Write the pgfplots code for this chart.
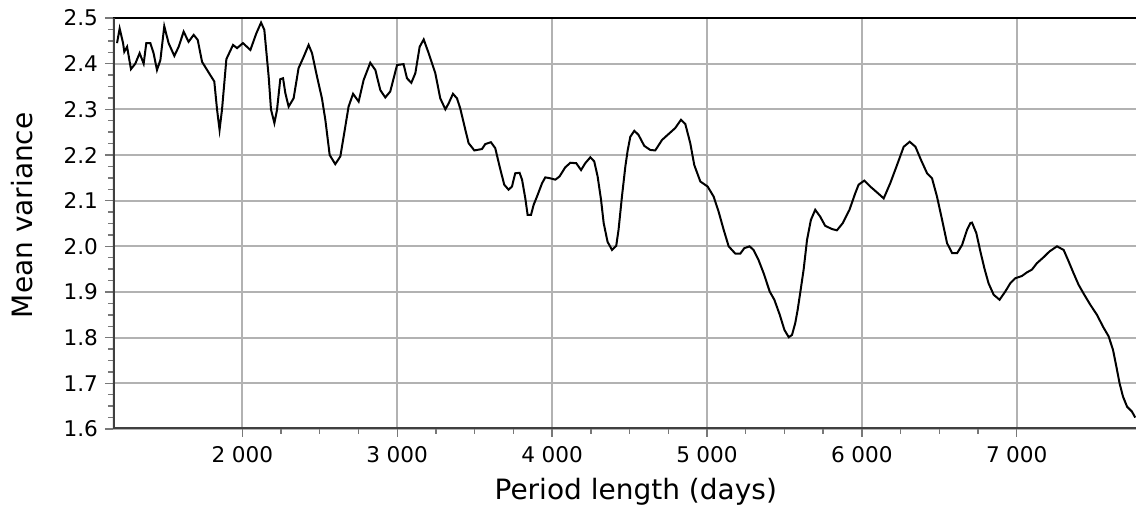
\documentclass[border=0pt]{standalone}
\usepackage{pgfplots}
\pgfplotsset{compat=1.18}
\usepackage{fontspec}
\setmainfont{DejaVu Sans}

\definecolor{gridgray}{RGB}{178,178,178}
\definecolor{framegray}{RGB}{64,64,64}
\definecolor{tickgray}{RGB}{120,120,120}

\begin{document}
\begin{tikzpicture}
% page = 1136 x 508 px at 0.5pt per px
\useasboundingbox (0,0) rectangle (568pt,254pt);
\begin{axis}[
    at={(56.5pt,39.5pt)}, anchor=south west,
    scale only axis, width=511.5pt, height=205.5pt,
    xmin=1165, xmax=7770,
    ymin=1.6, ymax=2.5,
    xtick={2000,3000,...,7000},
    ytick={1.6,1.7,...,2.5},
    minor x tick num=3, minor y tick num=3,
    grid=major,
    major grid style={draw=gridgray, line width=1pt},
    axis line style={draw=none},
    tick pos=left, tick align=outside,
    major tick length=4pt, minor tick length=2.5pt,
    every tick/.style={draw=tickgray, line width=0.7pt},
    /pgf/number format/assume math mode=true,
    /pgf/number format/1000 sep={\hspace{0.3em}},
    scaled ticks=false,
    yticklabel style={/pgf/number format/fixed, /pgf/number format/fixed zerofill,
        /pgf/number format/precision=1},
    ticklabel style={font=\fontsize{10.8}{12}\selectfont},
    xticklabel style={yshift=-1pt},
    xlabel={Period length (days)},
    ylabel={Mean variance},
    label style={font=\fontsize{14}{16}\selectfont},
    xlabel style={at={(axis description cs:0.511,-0.1727)}, anchor=base},
    ylabel style={at={(axis description cs:-0.0782,0.52)}, anchor=base},
]
\addplot[black, line width=1pt] coordinates {
(1191,2.445) (1208,2.477) (1230,2.445) (1238,2.426) (1256,2.437) (1281,2.388)
(1309,2.400) (1337,2.423) (1363,2.400) (1380,2.445) (1406,2.445) (1427,2.423)
(1449,2.386) (1471,2.408) (1496,2.482) (1524,2.445) (1561,2.417) (1589,2.437)
(1621,2.470) (1653,2.448) (1686,2.463) (1712,2.452) (1740,2.404) (1793,2.375)
(1819,2.361) (1837,2.299) (1853,2.255) (1869,2.300) (1897,2.410) (1940,2.441)
(1966,2.434) (2004,2.445) (2052,2.430) (2090,2.466) (2121,2.490) (2142,2.474)
(2170,2.372) (2185,2.300) (2207,2.270) (2224,2.299) (2245,2.366) (2263,2.368)
(2278,2.335) (2299,2.306) (2331,2.324) (2363,2.390) (2396,2.415) (2428,2.441)
(2450,2.423) (2482,2.372) (2514,2.324) (2536,2.277) (2564,2.200) (2600,2.180)
(2633,2.197) (2658,2.248) (2686,2.306) (2715,2.334) (2751,2.317) (2783,2.364)
(2826,2.402) (2859,2.386) (2891,2.342) (2923,2.326) (2955,2.339) (2999,2.397)
(3041,2.399) (3063,2.368) (3091,2.358) (3117,2.379) (3145,2.437) (3171,2.453)
(3203,2.423) (3246,2.379) (3278,2.324) (3311,2.300) (3332,2.313) (3360,2.334)
(3386,2.324) (3407,2.302) (3440,2.255) (3461,2.226) (3498,2.210) (3547,2.213)
(3569,2.224) (3605,2.228) (3633,2.215) (3661,2.175) (3691,2.135) (3719,2.124)
(3741,2.131) (3762,2.160) (3790,2.161) (3806,2.146) (3827,2.105) (3842,2.069)
(3864,2.069) (3881,2.091) (3907,2.113) (3935,2.138) (3956,2.151) (3988,2.149)
(4021,2.146) (4048,2.153) (4085,2.173) (4118,2.183) (4156,2.182) (4187,2.167)
(4214,2.182) (4247,2.195) (4272,2.186) (4294,2.153) (4316,2.102) (4333,2.051)
(4358,2.010) (4387,1.992) (4414,2.001) (4429,2.036) (4451,2.109) (4473,2.175)
(4488,2.210) (4505,2.240) (4531,2.253) (4558,2.244) (4595,2.220) (4634,2.211)
(4666,2.210) (4710,2.233) (4759,2.248) (4795,2.259) (4832,2.277) (4860,2.268)
(4892,2.226) (4918,2.178) (4957,2.142) (5004,2.131) (5043,2.109) (5075,2.076)
(5108,2.036) (5140,2.000) (5183,1.984) (5215,1.984) (5241,1.996) (5275,2.000)
(5301,1.992) (5333,1.970) (5366,1.941) (5405,1.901) (5435,1.883) (5470,1.850)
(5500,1.817) (5528,1.801) (5549,1.806) (5570,1.832) (5585,1.860) (5602,1.898)
(5624,1.949) (5646,2.014) (5671,2.058) (5699,2.080) (5731,2.065) (5763,2.045)
(5806,2.038) (5839,2.035) (5877,2.051) (5920,2.080) (5957,2.116) (5979,2.135)
(6016,2.144) (6054,2.131) (6098,2.118) (6141,2.105) (6183,2.138) (6227,2.178)
(6270,2.218) (6309,2.229) (6346,2.218) (6382,2.189) (6421,2.160) (6453,2.149)
(6485,2.109) (6518,2.058) (6550,2.007) (6583,1.985) (6615,1.985) (6647,2.003)
(6679,2.036) (6701,2.051) (6711,2.052) (6739,2.029) (6765,1.989) (6791,1.952)
(6818,1.919) (6851,1.894) (6889,1.883) (6926,1.901) (6958,1.919) (6990,1.930)
(7033,1.935) (7066,1.943) (7098,1.949) (7130,1.963) (7173,1.976) (7212,1.989)
(7260,2.000) (7303,1.992) (7335,1.967) (7367,1.941) (7399,1.916) (7436,1.894)
(7475,1.872) (7518,1.850) (7557,1.824) (7593,1.803) (7621,1.774) (7643,1.737)
(7664,1.700) (7686,1.671) (7712,1.649) (7744,1.638) (7765,1.625)
};
% frame: black top line, dark grey left and bottom lines
\draw[black, line width=1pt] (rel axis cs:0,1) -- (rel axis cs:1,1);
\draw[framegray, line width=1.6pt] (rel axis cs:0,1) -- (rel axis cs:0,0) -- (rel axis cs:1,0);
\end{axis}
\end{tikzpicture}
\end{document}
